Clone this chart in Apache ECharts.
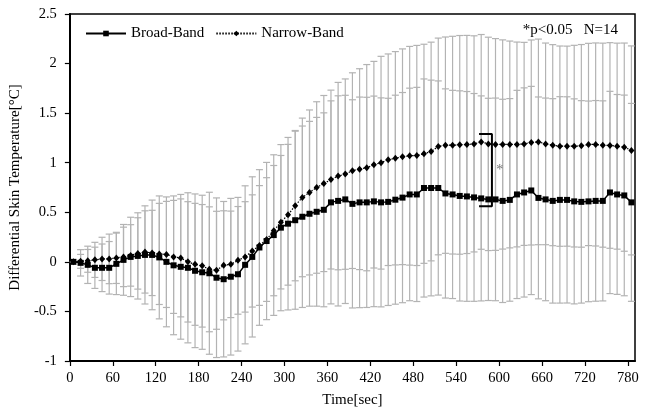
<!DOCTYPE html>
<html>
<head>
<meta charset="utf-8">
<script src="https://cdn.jsdelivr.net/npm/echarts@6/dist/echarts.min.js"></script>
<style>
html, body { margin: 0; padding: 0; background: #fff; }
#chart { width: 646px; height: 415px; }
</style>
</head>
<body>
<div id="chart"></div>
<script>
// time of each sample [sec]
var times = [5, 15, 25, 35, 45, 55, 65, 75, 85, 95,
    105, 115, 125, 135, 145, 155, 165, 175, 185, 195,
    205, 215, 225, 235, 245, 255, 265, 275, 285, 295,
    305, 315, 325, 335, 345, 355, 365, 375, 385, 395,
    405, 415, 425, 435, 445, 455, 465, 475, 485, 495,
    505, 515, 525, 535, 545, 555, 565, 575, 585, 595,
    605, 615, 625, 635, 645, 655, 665, 675, 685, 695,
    705, 715, 725, 735, 745, 755, 765, 775, 785];

var broadMean = [0, -0.01, -0.03, -0.06, -0.06, -0.06, -0.02, 0.02, 0.05, 0.06,
    0.07, 0.07, 0.045, 0.0, -0.035, -0.05, -0.06, -0.09, -0.105, -0.115,
    -0.16, -0.175, -0.15, -0.125, -0.03, 0.05, 0.145, 0.21, 0.27, 0.345,
    0.385, 0.42, 0.455, 0.485, 0.505, 0.525, 0.60, 0.615, 0.63, 0.585,
    0.60, 0.60, 0.61, 0.60, 0.605, 0.627, 0.648, 0.68, 0.68, 0.745,
    0.745, 0.745, 0.69, 0.68, 0.665, 0.66, 0.65, 0.64, 0.63, 0.63,
    0.615, 0.625, 0.68, 0.70, 0.72, 0.645, 0.63, 0.615, 0.625, 0.625,
    0.61, 0.605, 0.61, 0.615, 0.615, 0.70, 0.68, 0.67, 0.60];

var broadSD = [0, 0.133, 0.188, 0.208, 0.24, 0.265, 0.31, 0.357, 0.40, 0.435,
    0.495, 0.553, 0.62, 0.655, 0.70, 0.73, 0.757, 0.775, 0.777, 0.817,
    0.805, 0.784, 0.79, 0.775, 0.797, 0.808, 0.785, 0.793, 0.81, 0.838,
    0.87, 0.898, 0.915, 0.932, 0.952, 0.978, 1.024, 1.06, 1.05, 1.05,
    1.062, 1.06, 1.062, 1.054, 1.045, 1.054, 1.06, 1.072, 1.08, 1.10,
    1.088, 1.08, 1.055, 1.05, 1.06, 1.058, 1.048, 1.034, 1.02, 1.022,
    1.025, 1.022, 1.05, 1.055, 1.05, 1.018, 1.022, 1.031, 1.041, 1.04,
    1.034, 1.021, 1.012, 1.012, 1.009, 1.02, 1.008, 1.012, 0.998];

var narrowMean = [0, 0.005, 0.01, 0.02, 0.03, 0.03, 0.04, 0.05, 0.065, 0.085,
    0.10, 0.09, 0.08, 0.075, 0.05, 0.04, 0.0, -0.025, -0.04, -0.075,
    -0.085, -0.035, -0.025, 0.015, 0.05, 0.11, 0.165, 0.225, 0.315, 0.40,
    0.475, 0.567, 0.65, 0.70, 0.75, 0.79, 0.83, 0.865, 0.885, 0.92,
    0.935, 0.95, 0.98, 1.0, 1.03, 1.045, 1.06, 1.07, 1.073, 1.09,
    1.113, 1.164, 1.177, 1.177, 1.18, 1.184, 1.19, 1.21, 1.19, 1.184,
    1.184, 1.184, 1.184, 1.19, 1.204, 1.21, 1.19, 1.177, 1.167, 1.167,
    1.167, 1.17, 1.184, 1.184, 1.177, 1.174, 1.167, 1.157, 1.124];

var narrowSD = [0, 0.07, 0.115, 0.177, 0.218, 0.25, 0.258, 0.30, 0.31, 0.36,
    0.415, 0.43, 0.51, 0.535, 0.57, 0.595, 0.607, 0.615, 0.618, 0.63,
    0.595, 0.55, 0.537, 0.543, 0.557, 0.566, 0.604, 0.624, 0.657, 0.673,
    0.71, 0.758, 0.80, 0.832, 0.865, 0.888, 0.902, 0.945, 0.96, 0.987,
    1.013, 1.04, 1.042, 1.073, 1.067, 1.076, 1.088, 1.103, 1.11, 1.105,
    1.103, 1.093, 1.091, 1.098, 1.103, 1.10, 1.09, 1.083, 1.076, 1.068,
    1.055, 1.043, 1.033, 1.024, 1.034, 1.037, 1.017, 1.014, 1.01, 1.009,
    1.017, 1.022, 1.02, 1.024, 1.029, 1.037, 1.039, 1.05, 1.054];

// significance bracket at ~590 sec, and the star next to it
var bracketPoints = [[572, 1.29], [590, 1.29], [590, 0.56], [572, 0.56]];
var starPoint = [[601, 0.92]];

var xTicks = { min: 0, max: 790, step: 60 };
var yTicks = { min: -1, max: 2.5, step: 0.5 };

var font = '"Liberation Serif", "Times New Roman", serif';

function pairs(xs, ys) {
    var out = [];
    for (var i = 0; i < xs.length; i++) out.push([xs[i], ys[i]]);
    return out;
}
function errRows(xs, m, sd) {
    var out = [];
    for (var i = 0; i < xs.length; i++) out.push([xs[i], m[i] - sd[i], m[i] + sd[i]]);
    return out;
}

function errorBar(params, api) {
    var x = api.value(0);
    var lo = api.coord([x, api.value(1)]);
    var hi = api.coord([x, api.value(2)]);
    var w = 3.5;
    var st = { stroke: '#b3b3b3', lineWidth: 1.2 };
    return {
        type: 'group',
        children: [
            { type: 'line', shape: { x1: lo[0], y1: lo[1], x2: hi[0], y2: hi[1] }, style: st },
            { type: 'line', shape: { x1: hi[0] - w, y1: hi[1], x2: hi[0] + w, y2: hi[1] }, style: st },
            { type: 'line', shape: { x1: lo[0] - w, y1: lo[1], x2: lo[0] + w, y2: lo[1] }, style: st }
        ]
    };
}

var chart = echarts.init(document.getElementById('chart'));
var option = {
    animation: false,
    textStyle: { fontFamily: font },
    grid: {
        left: 69, right: 11, top: 14, bottom: 54,
        show: true, borderColor: '#000', borderWidth: 1.5, backgroundColor: '#fff'
    },
    legend: {
        left: 85, top: 26, padding: 0,
        itemWidth: 40, itemHeight: 7, itemGap: 11,
        textStyle: { fontFamily: font, fontSize: 15, color: '#000' },
        data: ['Broad-Band', 'Narrow-Band']
    },
    title: {
        text: '*p<0.05   N=14',
        right: 23, top: 18,
        textStyle: { fontFamily: font, fontSize: 15, fontWeight: 'normal', color: '#000' }
    },
    xAxis: {
        type: 'value',
        min: xTicks.min, max: xTicks.max, interval: xTicks.step,
        name: 'Time[sec]', nameLocation: 'middle', nameGap: 32,
        nameTextStyle: { fontFamily: font, fontSize: 15, color: '#000' },
        axisLine: { show: true, onZero: false, lineStyle: { color: '#000', width: 2 } },
        axisTick: { show: true, inside: false, length: 5, lineStyle: { color: '#000', width: 1.2 } },
        axisLabel: { color: '#000', fontFamily: font, fontSize: 14.5, margin: 10, showMaxLabel: false },
        splitLine: { show: false }
    },
    yAxis: {
        type: 'value',
        min: yTicks.min, max: yTicks.max, interval: yTicks.step,
        name: 'Differential Skin Temperature[°C]', nameLocation: 'middle', nameGap: 39,
        nameTextStyle: { fontFamily: font, fontSize: 15, color: '#000' },
        axisLine: { show: true, onZero: false, lineStyle: { color: '#000', width: 2 } },
        axisTick: { show: true, inside: false, length: 5, lineStyle: { color: '#000', width: 1.2 } },
        axisLabel: { color: '#000', fontFamily: font, fontSize: 14.5, margin: 13 },
        splitLine: { show: false }
    },
    series: [
        {
            name: 'Broad-Band err', type: 'custom', renderItem: errorBar,
            data: errRows(times, broadMean, broadSD), z: 1, silent: true
        },
        {
            name: 'Narrow-Band err', type: 'custom', renderItem: errorBar,
            data: errRows(times, narrowMean, narrowSD), z: 1, silent: true
        },
        {
            name: 'Narrow-Band', type: 'line', data: pairs(times, narrowMean), z: 3,
            symbol: 'diamond', symbolSize: [6, 7], showAllSymbol: true,
            lineStyle: { color: '#000', width: 1.2, type: [1.5, 1.5] },
            itemStyle: { color: '#000' }
        },
        {
            name: 'Broad-Band', type: 'line', data: pairs(times, broadMean), z: 4,
            symbol: 'rect', symbolSize: 6, showAllSymbol: true,
            lineStyle: { color: '#000', width: 1.5 },
            itemStyle: { color: '#000' }
        },
        {
            name: 'bracket', type: 'line', data: bracketPoints, z: 5,
            symbol: 'none', lineStyle: { color: '#000', width: 2 }, silent: true
        },
        {
            name: 'star', type: 'scatter', data: starPoint, z: 5, symbolSize: 0, silent: true,
            label: { show: true, position: 'inside', formatter: '*', color: '#555', fontFamily: font, fontSize: 14 }
        }
    ]
};
chart.setOption(option);
</script>
</body>
</html>
